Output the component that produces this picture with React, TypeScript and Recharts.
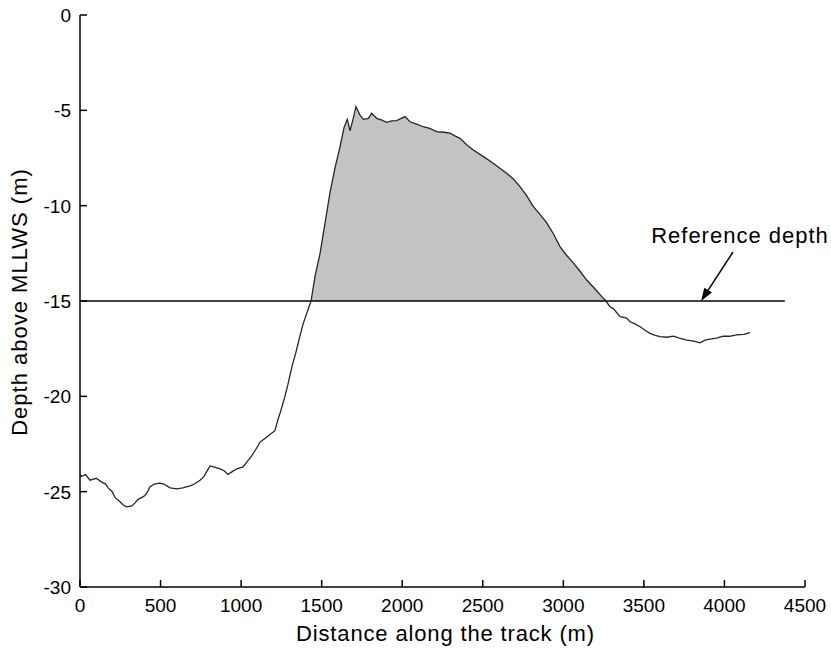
import React from "react";
import {
  ComposedChart,
  Line,
  Area,
  XAxis,
  YAxis,
  ReferenceLine,
} from "recharts";

// Distance along the track (m)
const distances = [
  0, 10, 35, 62, 100, 135, 160, 175, 200, 217, 245, 268, 290, 322, 340, 360, 385, 403, 420, 434,
  460, 496, 520, 559, 600, 639, 660, 683, 710, 745, 770, 790, 807, 830, 869, 895, 919, 945, 974,
  1012, 1040, 1068, 1090, 1117, 1150, 1179, 1210, 1229, 1245, 1260, 1272, 1290, 1303, 1320, 1340,
  1366, 1385, 1405, 1434, 1459, 1490, 1521, 1552, 1583, 1614, 1639, 1659, 1676, 1696, 1713, 1738,
  1759, 1775, 1790, 1810, 1842, 1870, 1904, 1935, 1966, 2017, 2048, 2090, 2131, 2170, 2214, 2260,
  2297, 2330, 2359, 2400, 2441, 2500, 2565, 2600, 2648, 2690, 2731, 2770, 2814, 2850, 2897, 2940,
  2979, 3020, 3062, 3100, 3145, 3200, 3248, 3259, 3290, 3310, 3352, 3393, 3414, 3445, 3476, 3510,
  3538, 3570, 3600, 3640, 3683, 3720, 3766, 3810, 3848, 3880, 3910, 3950, 3993, 4030, 4076, 4120,
  4159,
];

// Depth above MLLWS (m)
const depths = [
  -24.1, -24.2, -24.1, -24.4, -24.3, -24.5, -24.6, -24.8, -25.0, -25.3, -25.5, -25.7, -25.8, -25.75,
  -25.6, -25.4, -25.3, -25.2, -25.0, -24.75, -24.6, -24.55, -24.6, -24.8, -24.85, -24.8, -24.75,
  -24.7, -24.6, -24.4, -24.2, -23.9, -23.65, -23.7, -23.8, -23.9, -24.1, -23.95, -23.8, -23.7,
  -23.4, -23.1, -22.8, -22.4, -22.2, -22.0, -21.8, -21.2, -20.8, -20.35, -20.0, -19.4, -18.9,
  -18.3, -17.7, -16.8, -16.2, -15.7, -15.0, -13.7, -12.5, -10.9, -9.3, -8.0, -6.9, -5.9, -5.47,
  -6.07, -5.42, -4.81, -5.25, -5.47, -5.45, -5.42, -5.16, -5.42, -5.5, -5.63, -5.55, -5.54, -5.33,
  -5.6, -5.72, -5.86, -5.95, -6.12, -6.15, -6.2, -6.35, -6.47, -6.8, -7.08, -7.4, -7.78, -8.0,
  -8.3, -8.6, -9.0, -9.45, -10.05, -10.4, -10.9, -11.5, -12.15, -12.6, -13.0, -13.4, -13.9,
  -14.4, -14.86, -14.95, -15.3, -15.4, -15.82, -15.9, -16.09, -16.2, -16.35, -16.55, -16.7,
  -16.8, -16.87, -16.9, -16.84, -16.95, -17.05, -17.1, -17.19, -17.05, -17.0, -16.95, -16.84,
  -16.85, -16.78, -16.75, -16.66,
];

const referenceDepth = -15;
const referenceLineEnd = 4375;
const arrowTail = { x: 4053, y: -12.43 };
const arrowTip = { x: 3855, y: -15 };
const annotationText = "Reference depth";

const xTicks = [0, 500, 1000, 1500, 2000, 2500, 3000, 3500, 4000, 4500];
const yTicks = [-30, -25, -20, -15, -10, -5, 0];

const xTitle = "Distance along the track (m)";
const yTitle = "Depth above MLLWS (m)";

const FONT = "'Liberation Sans', Arial, Helvetica, sans-serif";

const data = distances.map((d, i) => {
  const v = depths[i];
  return {
    d,
    depth: v,
    shade: v >= referenceDepth ? [referenceDepth, v] : null,
  };
});

const YTick = (props: any) => {
  const { x, y, payload } = props;
  return (
    <g>
      <line x1={x} y1={y} x2={x + 7} y2={y} stroke="#000" strokeWidth={1.5} />
      <text
        x={x - 9}
        y={y}
        dy="0.36em"
        textAnchor="end"
        fontSize={19}
        fontFamily={FONT}
        fill="#000"
      >
        {payload.value}
      </text>
    </g>
  );
};

const XTick = (props: any) => {
  const { x, y, payload } = props;
  return (
    <g>
      <line x1={x} y1={y - 7} x2={x} y2={y} stroke="#000" strokeWidth={1.5} />
      <text
        x={x}
        y={y + 25}
        textAnchor="middle"
        fontSize={19}
        fontFamily={FONT}
        fill="#000"
      >
        {payload.value}
      </text>
    </g>
  );
};

const ArrowShape = (props: any) => {
  const { x1, y1, x2, y2 } = props;
  if ([x1, y1, x2, y2].some((v) => typeof v !== "number" || isNaN(v))) return null;
  const ang = Math.atan2(y2 - y1, x2 - x1);
  const len = 13;
  const half = 4.5;
  const bx = x2 - len * Math.cos(ang);
  const by = y2 - len * Math.sin(ang);
  const px = -Math.sin(ang) * half;
  const py = Math.cos(ang) * half;
  return (
    <g>
      <line x1={x1} y1={y1} x2={bx} y2={by} stroke="#000" strokeWidth={1.5} />
      <polygon
        points={`${x2},${y2} ${bx + px},${by + py} ${bx - px},${by - py}`}
        fill="#000"
      />
      <text
        x={x1 + 7}
        y={y1 - 9}
        textAnchor="middle"
        fontSize={22}
        letterSpacing={1}
        fontFamily={FONT}
        fill="#000"
      >
        {annotationText}
      </text>
    </g>
  );
};

export default function App() {
  return (
    <div style={{ position: "absolute", left: 0, top: 0, background: "#fff" }}>
      <ComposedChart
        width={831}
        height={651}
        data={data}
        margin={{ top: 15, right: 26, bottom: 0, left: 0 }}
      >
        <XAxis
          dataKey="d"
          type="number"
          domain={[0, 4500]}
          ticks={xTicks}
          tickSize={0}
          tickMargin={0}
          height={64}
          tick={<XTick />}
          tickLine={false}
          axisLine={{ stroke: "#000", strokeWidth: 1.5 }}
          interval={0}
          label={{
            content: (p: any) => {
              const vb = p.viewBox || { x: 80, y: 587, width: 725 };
              return (
                <text
                  x={vb.x + vb.width / 2 + 3}
                  y={vb.y + 54}
                  textAnchor="middle"
                  fontSize={22}
                  letterSpacing={0.85}
                  fontFamily={FONT}
                  fill="#000"
                >
                  {xTitle}
                </text>
              );
            },
          }}
        />
        <YAxis
          type="number"
          domain={[-30, 0]}
          ticks={yTicks}
          tickSize={0}
          tickMargin={0}
          width={80}
          tick={<YTick />}
          tickLine={false}
          axisLine={{ stroke: "#000", strokeWidth: 1.5 }}
          interval={0}
          allowDataOverflow
          label={{
            content: (p: any) => {
              const vb = p.viewBox || { x: 0, y: 15, width: 80, height: 572 };
              const cx = 27;
              const cy = vb.y + vb.height / 2 + 1;
              return (
                <text
                  x={cx}
                  y={cy}
                  transform={`rotate(-90, ${cx}, ${cy})`}
                  textAnchor="middle"
                  fontSize={22}
                  letterSpacing={1}
                  fontFamily={FONT}
                  fill="#000"
                >
                  {yTitle}
                </text>
              );
            },
          }}
        />
        <Area
          dataKey="shade"
          type="linear"
          stroke="none"
          fill="#c3c3c3"
          fillOpacity={1}
          isAnimationActive={false}
          connectNulls={false}
          dot={false}
          activeDot={false}
        />
        <ReferenceLine
          segment={[
            { x: 0, y: referenceDepth },
            { x: referenceLineEnd, y: referenceDepth },
          ]}
          stroke="#000"
          strokeWidth={1.5}
        />
        <Line
          dataKey="depth"
          type="linear"
          stroke="#262626"
          strokeWidth={1.3}
          dot={false}
          activeDot={false}
          isAnimationActive={false}
        />
        <ReferenceLine
          segment={[arrowTail, arrowTip]}
          shape={<ArrowShape />}
          ifOverflow="visible"
        />
      </ComposedChart>
    </div>
  );
}
